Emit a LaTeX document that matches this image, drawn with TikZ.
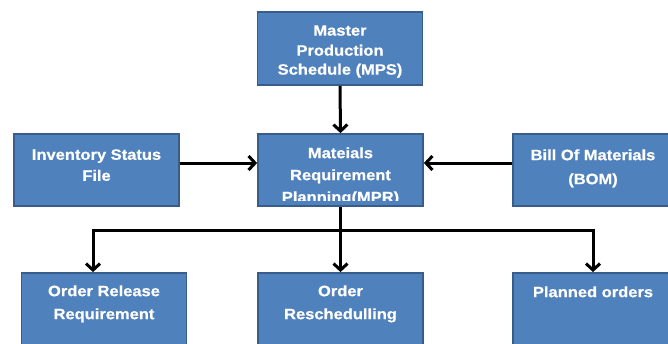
\documentclass[tikz,border=0pt]{standalone}
\usepackage{fontspec}
\setmainfont{Liberation Sans}[FakeStretch=1.1, BoldFeatures={FakeBold=0.6}]
\usetikzlibrary{arrows.meta,positioning}

\definecolor{boxfill}{HTML}{4F81BD}
\definecolor{boxline}{HTML}{385D8A}

\begin{document}
\begin{tikzpicture}[x=1pt, y=-1pt,
    box/.style={draw=boxline, fill=boxfill, line width=1.8pt,
      minimum width=165pt, minimum height=72pt, inner sep=0pt},
    boxtext/.style={text=white, inner sep=0pt, align=center,
      font=\fontsize{15}{21}\selectfont\bfseries},
    flow/.style={line width=3pt,
      -{Straight Barb[length=6.5pt,width=14pt,line width=3pt]}},
  ]

  % Page size as in the reference
  \useasboundingbox (0,0) rectangle (668,343);
  \clip (0,0) rectangle (668,343);

  % Boxes
  \node[box, minimum height=73pt] (mps) at (340,48.5) {};
  \node[box] (inv) at (96.5,170) {};
  \node[box] (mrp) at (340.5,170) {};
  \node[box, minimum width=160pt] (bom) at (593,170) {};
  \node[box, minimum height=90pt] (relbox) at (104,318) {};
  \node[box, minimum height=90pt] (resch) at (340.5,318) {};
  \node[box, minimum width=160pt, minimum height=90pt] (plan) at (593,318) {};

  % Texts in the boxes
  \node[boxtext, below=14pt of mps.north] (mpstext)
    {Master\\[-1pt]Production\\[-2pt]Schedule (MPS)};
  \node[boxtext, below=16pt of inv.north] (invtext) {Inventory Status\\File};
  \node[boxtext, below=16pt of bom.north] (bomtext) {Bill Of Materials\\[3pt](BOM)};
  \begin{scope}
    \clip (mrp.north west) rectangle ([yshift=6pt]mrp.south east);
    \node[boxtext, below=14pt of mrp.north] (mrptext)
      {Mateials\\[1pt]Requirement\\[1pt]Planning(MPR)};
  \end{scope}
  \node[boxtext, below=13pt of relbox.north] (reltext) {Order Release\\[2pt]Requirement};
  \node[boxtext, below=13pt of resch.north] (reschtext) {Order\\[2pt]Reschedulling};
  \node[boxtext, below=14pt of plan.north] (plantext) {Planned orders};

  % Connectors
  \coordinate (bus) at (0,230);
  \draw[flow] (mps.south) -- (mrp.north);
  \draw[flow] ([yshift=7pt]inv.east) -- ([yshift=7pt]mrp.west);
  \draw[flow] ([yshift=7pt]bom.west) -- ([yshift=7pt]mrp.east);
  \draw[flow] (mrp.south) -- (resch.north);
  \draw[flow] (mrp.south |- bus) -| ([xshift=-11pt]relbox.north);
  \draw[flow] (mrp.south |- bus) -| (plan.north);
\end{tikzpicture}
\end{document}
